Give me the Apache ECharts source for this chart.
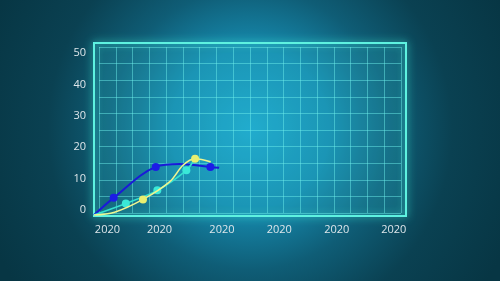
<!DOCTYPE html>
<html><head><meta charset="utf-8">
<script src="https://cdn.jsdelivr.net/npm/echarts@6/dist/echarts.min.js"></script>
<style>html,body{margin:0;padding:0;background:#0a3a48;}#c{width:500px;height:281px;}</style>
</head><body><div id="c"></div>
<script>
// ---- data ----
const yTickValues = [0, 10, 20, 30, 40, 50];
const xTickValues = [4.3, 21.0, 41.0, 59.4, 77.8, 96.1];
const xTickLabels = ['2020', '2020', '2020', '2020', '2020', '2020'];

// x values, y values, marker flags
const blueX = [0, 6.3, 19.8, 27.5, 37.3, 40.1];
const blueY = [-1.7, 3.8, 13.7, 14.6, 13.7, 13.4];
const blueM = [0, 1, 1, 0, 1, 0];

const cyanX = [0, 10.2, 20.3, 29.6, 32.3];
const cyanY = [-1.7, 2.0, 6.2, 12.6, 16.3];
const cyanM = [0, 1, 1, 1, 0];

const yellowX = [0, 6.6, 15.7, 24.3, 28.6, 32.4, 37.4];
const yellowY = [-1.7, -0.8, 3.3, 9.0, 14.3, 16.3, 15.3];
const yellowM = [0, 0, 1, 0, 0, 1, 0];

function build(xs, ys, ms) {
  return xs.map((x, i) => ms[i] ? { value: [x, ys[i]] } : { value: [x, ys[i]], symbol: 'none' });
}
function xLabel(v) {
  let best = 0, d = Infinity;
  xTickValues.forEach((t, i) => { if (Math.abs(t - v) < d) { d = Math.abs(t - v); best = i; } });
  return xTickLabels[best];
}

const chart = echarts.init(document.getElementById('c'));
const labelStyle = { color: '#dde6ea', fontSize: 11, fontFamily: 'Open Sans' };
chart.setOption({
  animation: false,
  backgroundColor: {
    type: 'radial', x: 0.5, y: 0.46, r: 1.0,
    colorStops: [
      { offset: 0, color: '#1ca6cc' },
      { offset: 0.28, color: '#168aae' },
      { offset: 0.5, color: '#0f5d76' },
      { offset: 0.72, color: '#0a4152' },
      { offset: 1, color: '#073644' }
    ]
  },
  grid: [
    { left: 94, top: 43, right: 94, bottom: 65, show: true, borderColor: '#5ef2e0', borderWidth: 2,
      shadowBlur: 8, shadowColor: 'rgba(80,255,230,0.8)', backgroundColor: 'rgba(30,160,200,0.12)' },
    { left: 99, top: 47, right: 99, bottom: 68 }
  ],
  xAxis: [
    { type: 'value', gridIndex: 0, min: 0, max: 100,
      axisLine: { show: false }, axisTick: { show: false }, splitLine: { show: false },
      axisLabel: Object.assign({ show: true, customValues: xTickValues, margin: 8,
        formatter: xLabel }, labelStyle) },
    { type: 'value', gridIndex: 1, min: 0, max: 18, interval: 1,
      axisLine: { show: false }, axisTick: { show: false }, axisLabel: { show: false },
      splitLine: { show: true, lineStyle: { color: 'rgba(110,240,235,0.47)', width: 1 } } }
  ],
  yAxis: [
    { type: 'value', gridIndex: 0, min: -2, max: 53.3,
      axisLine: { show: false }, axisTick: { show: false }, splitLine: { show: false },
      axisLabel: Object.assign({ customValues: yTickValues, margin: 8 }, labelStyle) },
    { type: 'value', gridIndex: 1, min: 0, max: 10, interval: 1,
      axisLine: { show: false }, axisTick: { show: false }, axisLabel: { show: false },
      splitLine: { show: true, lineStyle: { color: 'rgba(110,240,235,0.47)', width: 1 } } }
  ],
  series: [
    { type: 'line', xAxisIndex: 0, yAxisIndex: 0, smooth: 0.35, data: build(blueX, blueY, blueM),
      symbol: 'circle', symbolSize: 8, lineStyle: { color: '#1a1ad8', width: 2 },
      itemStyle: { color: '#1c1ce6' }, z: 3 },
    { type: 'line', xAxisIndex: 0, yAxisIndex: 0, smooth: 0.3, data: build(cyanX, cyanY, cyanM),
      symbol: 'circle', symbolSize: 8, lineStyle: { color: '#34e0cf', width: 1.6 },
      itemStyle: { color: '#3ae8d8' }, z: 4 },
    { type: 'line', xAxisIndex: 0, yAxisIndex: 0, smooth: 0.35, data: build(yellowX, yellowY, yellowM),
      symbol: 'circle', symbolSize: 8, lineStyle: { color: '#eef590', width: 1.6 },
      itemStyle: { color: '#e8f070' }, z: 5 }
  ]
});
</script></body></html>
